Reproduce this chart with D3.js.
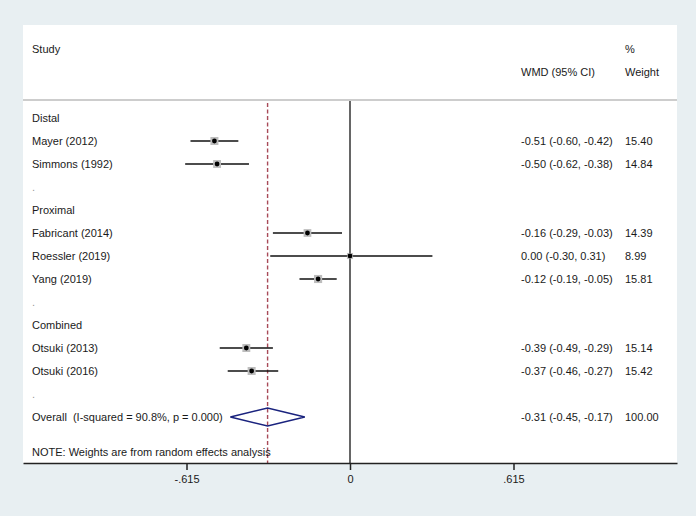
<!DOCTYPE html>
<html>
<head>
<meta charset="utf-8">
<script src="https://cdn.jsdelivr.net/npm/d3@7"></script>
<style>
  body { margin: 0; background: #e8eff2; }
  text { font-family: "Liberation Sans", Arial, sans-serif; font-size: 11px; fill: #1a1a1a; white-space: pre; }
</style>
</head>
<body>
<div id="forest"></div>
<script>
// rows of the forest plot (top to bottom)
const rowLabels = ["Distal", "Mayer (2012)", "Simmons (1992)", ".", "Proximal",
  "Fabricant (2014)", "Roessler (2019)", "Yang (2019)", ".", "Combined",
  "Otsuki (2013)", "Otsuki (2016)", ".", "Overall  (I-squared = 90.8%, p = 0.000)"];

// studies
const studyRows = [1, 2, 5, 6, 7, 10, 11];
const wmd    = [-0.51, -0.50, -0.16, 0.00, -0.12, -0.39, -0.37];
const lower  = [-0.60, -0.62, -0.29, -0.30, -0.19, -0.49, -0.46];
const upper  = [-0.42, -0.38, -0.03, 0.31, -0.05, -0.29, -0.27];
const weight = ["15.40", "14.84", "14.39", "8.99", "15.81", "15.14", "15.42"];

// pooled estimate
const overallRow = 13;
const overall = [-0.31, -0.45, -0.17];
const overallWeight = "100.00";

const tickValues = [-0.615, 0, 0.615];
const tickLabels = ["-.615", "0", ".615"];

function drawChart() {
  var width = 696;
  var height = 516;
  var panel = { left: 23, right: 677, top: 25, bottom: 463 };

  var svg = d3.select("#forest").append("svg")
    .attr("width", width)
    .attr("height", height);

  // white plot panel
  svg.append("rect")
    .attr("x", panel.left).attr("y", panel.top)
    .attr("width", panel.right - panel.left)
    .attr("height", panel.bottom - panel.top)
    .attr("fill", "#ffffff");

  var x = d3.scaleLinear().domain([-1.23, 1.23]).range([panel.left, panel.right]);
  var y = d3.scaleLinear().domain([0, 13]).range([118, 417]);
  // plain hyphen minus like Stata output
  var fmt = d3.formatLocale({ decimal: ".", thousands: ",", grouping: [3], currency: ["", ""], minus: "-" }).format(".2f");
  var ciText = (m, l, u) => `${fmt(m)} (${fmt(l)}, ${fmt(u)})`;

  // header
  svg.append("text").attr("x", 32).attr("y", 49).attr("dy", "0.35em").text("Study");
  svg.append("text").attr("x", 625).attr("y", 49).attr("dy", "0.35em").text("%");
  svg.append("text").attr("x", 521).attr("y", 72).attr("dy", "0.35em").text("WMD (95% CI)");
  svg.append("text").attr("x", 625).attr("y", 72).attr("dy", "0.35em").text("Weight");

  svg.append("line")
    .attr("x1", panel.left).attr("x2", panel.right)
    .attr("y1", 100).attr("y2", 100)
    .attr("stroke", "#bdbdbd").attr("stroke-width", 1.5);

  // null line
  svg.append("line")
    .attr("x1", x(0)).attr("x2", x(0))
    .attr("y1", 101).attr("y2", panel.bottom)
    .attr("stroke", "#333").attr("stroke-width", 1.5);

  // overall effect line
  svg.append("line")
    .attr("x1", x(overall[0])).attr("x2", x(overall[0]))
    .attr("y1", 103).attr("y2", panel.bottom)
    .attr("stroke", "#a84a58").attr("stroke-width", 1.4)
    .attr("stroke-dasharray", "4,2.5");

  // row labels
  svg.selectAll("text.row")
    .data(rowLabels)
    .enter().append("text")
    .attr("class", "row")
    .attr("x", 32)
    .attr("y", (d, i) => y(i))
    .attr("dy", "0.35em")
    .style("fill", d => d === "." ? "#999" : null)
    .text(d => d);

  var studies = studyRows.map((r, i) => ({
    row: r, m: wmd[i], l: lower[i], u: upper[i], w: weight[i]
  }));

  // CI lines
  svg.selectAll("line.ci")
    .data(studies)
    .enter().append("line")
    .attr("class", "ci")
    .attr("x1", d => x(d.l)).attr("x2", d => x(d.u))
    .attr("y1", d => y(d.row)).attr("y2", d => y(d.row))
    .attr("stroke", "#111").attr("stroke-width", 1.4);

  // weight boxes
  svg.selectAll("rect.box")
    .data(studies)
    .enter().append("rect")
    .attr("class", "box")
    .attr("x", d => x(d.m) - Math.sqrt(+d.w) * 1.02)
    .attr("y", d => y(d.row) - Math.sqrt(+d.w) * 1.02)
    .attr("width", d => Math.sqrt(+d.w) * 2.04)
    .attr("height", d => Math.sqrt(+d.w) * 2.04)
    .attr("fill", "#bdbdbd");

  // point estimates
  svg.selectAll("circle.pt")
    .data(studies)
    .enter().append("circle")
    .attr("class", "pt")
    .attr("cx", d => x(d.m)).attr("cy", d => y(d.row))
    .attr("r", 2.4)
    .attr("fill", "#000");

  // effect and weight columns
  svg.selectAll("text.eff")
    .data(studies)
    .enter().append("text")
    .attr("class", "eff")
    .attr("x", 521).attr("y", d => y(d.row)).attr("dy", "0.35em")
    .text(d => ciText(d.m, d.l, d.u));

  svg.selectAll("text.wt")
    .data(studies)
    .enter().append("text")
    .attr("class", "wt")
    .attr("x", 625).attr("y", d => y(d.row)).attr("dy", "0.35em")
    .text(d => d.w);

  // overall diamond
  var oy = y(overallRow);
  svg.append("path")
    .attr("d", d3.line()([
      [x(overall[1]), oy], [x(overall[0]), oy - 9],
      [x(overall[2]), oy], [x(overall[0]), oy + 9]
    ]) + "Z")
    .attr("fill", "none")
    .attr("stroke", "#1a237e").attr("stroke-width", 1.5);

  svg.append("text").attr("x", 521).attr("y", oy).attr("dy", "0.35em")
    .text(ciText(overall[0], overall[1], overall[2]));
  svg.append("text").attr("x", 625).attr("y", oy).attr("dy", "0.35em")
    .text(overallWeight);

  svg.append("text").attr("x", 32).attr("y", 452).attr("dy", "0.35em")
    .text("NOTE: Weights are from random effects analysis");

  // x axis
  var axis = svg.append("g")
    .attr("transform", "translate(0," + panel.bottom + ")")
    .call(d3.axisBottom(x)
      .tickValues(tickValues)
      .tickFormat((d, i) => tickLabels[i])
      .tickSize(7)
      .tickSizeOuter(0)
      .tickPadding(5));
  axis.select(".domain").attr("stroke", "#222").attr("stroke-width", 1.5);
  axis.selectAll(".tick line").attr("stroke", "#222").attr("stroke-width", 1.5);
  axis.selectAll(".tick text")
    .style("font-family", "Liberation Sans, Arial, sans-serif")
    .style("font-size", "11px")
    .style("fill", "#1a1a1a");
}

drawChart();
</script>
</body>
</html>
